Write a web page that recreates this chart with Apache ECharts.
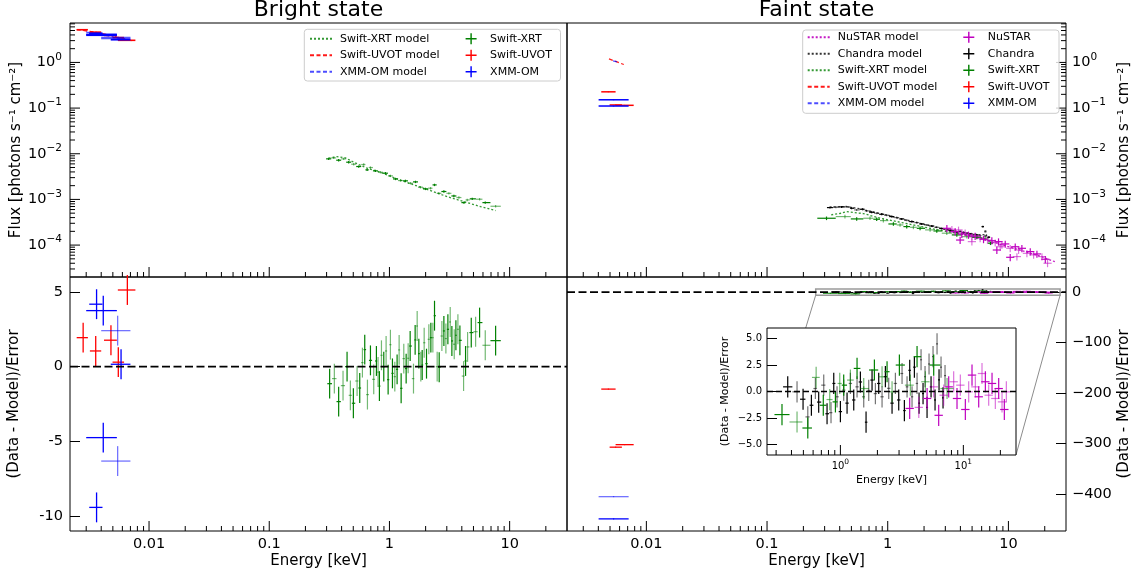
<!DOCTYPE html>
<html><head><meta charset="utf-8">
<script src="https://cdn.jsdelivr.net/npm/echarts@6/dist/echarts.min.js"></script>
<style>html,body{margin:0;padding:0;background:#fff}#c{width:1140px;height:581px}</style>
</head><body><div id="c"></div>
<script>
// ---------------- axis ranges ----------------
const X_RANGE = [0.0022, 30];
const FLUX_RANGE = [2e-5, 7.3];
const RES_BRIGHT_RANGE = [-11, 6];
const RES_FAINT_RANGE = [-473, 30];
const INSET_X = [0.253, 26.8];
const INSET_Y = [-6, 6];

// ---------------- Bright state ----------------
const bUvotE    = [0.00283, 0.0036, 0.00482, 0.00555, 0.0066];
const bUvotElo  = [0.0025, 0.00322, 0.00422, 0.00497, 0.0055];
const bUvotEhi  = [0.0031, 0.0040, 0.0054, 0.0062, 0.0077];
const bUvotFlux = [5.2, 4.6, 3.9, 3.5, 3.05];
const bUvotRes  = [1.94, 1.05, 1.77, 0.3, 5.13];

const bOmE    = [0.00366, 0.00366, 0.00416, 0.00416, 0.00548, 0.00548, 0.00585];
const bOmElo  = [0.00318, 0.00318, 0.0030, 0.0030, 0.0040, 0.0040, 0.0048];
const bOmEhi  = [0.0041, 0.0041, 0.0054, 0.0054, 0.0070, 0.0070, 0.0070];
const bOmFlux = [4.35, 4.2, 4.1, 3.95, 3.5, 3.35, 3.15];
const bOmRes  = [4.18, -9.42, 3.75, -4.75, 2.41, -6.32, 0.16];

const bUvotModelE = [0.0025, 0.0031, 0.0036, 0.0041, 0.0048, 0.0054, 0.0062, 0.0073];
const bUvotModelF = [5.25, 4.85, 4.55, 4.25, 3.9, 3.6, 3.3, 2.95];
const bOmModelE = [0.0030, 0.0037, 0.0042, 0.0055, 0.0059, 0.0070];
const bOmModelF = [4.6, 4.25, 4.0, 3.45, 3.25, 3.0];

const bXrtE = [0.312,0.344,0.378,0.416,0.458,0.504,0.555,0.611,0.652,0.695,0.764,0.841,0.926,1.019,1.122,1.235,1.359,1.496,1.647,1.813,1.995,2.197,2.371,2.577,2.837,3.122,3.436,3.783,4.164,4.438,4.886,5.623,6.268,7.643];
const bXrtFlux = [7.73e-3,8.12e-3,7.22e-3,7.73e-3,6.53e-3,5.90e-3,5.25e-3,5.81e-3,4.44e-3,4.99e-3,4.22e-3,3.94e-3,3.75e-3,3.28e-3,2.81e-3,2.59e-3,2.55e-3,2.26e-3,2.42e-3,1.85e-3,1.70e-3,1.76e-3,2.08e-3,1.36e-3,1.49e-3,1.36e-3,1.19e-3,1.10e-3,8.51e-4,9.75e-4,1.03e-3,1.01e-3,8.51e-4,7.08e-4];
const bXrtModelE = [0.312,0.366,0.430,0.504,0.652,0.841,1.159,1.596,2.197,3.02,4.16,5.73,7.64];
const bXrtModelF = [8.0e-3,8.69e-3,8.13e-3,6.53e-3,4.82e-3,3.94e-3,2.81e-3,2.08e-3,1.56e-3,1.15e-3,8.96e-4,6.96e-4,5.69e-4];

const bXrtResE = [0.318,0.348,0.378,0.411,0.444,0.473,0.501,0.538,0.566,0.596,0.623,0.656,0.695,0.740,0.779,0.804,0.825,0.858,0.897,0.938,0.975,1.019,1.059,1.108,1.158,1.204,1.251,1.316,1.377,1.431,1.487,1.585,1.636,1.701,1.756,1.824,1.872,1.945,2.034,2.127,2.211,2.297,2.371,2.495,2.593,2.730,2.837,2.948,3.063,3.203,3.307,3.459,3.571,3.711,3.856,4.137,4.298,4.467,4.793,5.210,5.623,6.268,7.643];
const bXrtResVal = [-1.14,-0.8,-2.34,-1.27,0,-1.92,-2.45,-0.96,-1.43,0.27,1.14,-1.87,0.42,-0.85,0.38,-0.36,-1.3,0.76,0,1.05,-0.87,1.47,-0.45,-0.67,-0.18,1.12,-1.45,0.54,-0.13,0.56,1.38,-0.8,1.79,2.72,0.87,0,0.11,1.6,0.2,1.83,1.94,1.94,3.41,0,-0.04,2.05,2.39,1.88,2.5,2.99,1.72,1.5,2.1,2.5,1.76,-0.63,0.38,1.32,2.28,2.34,2.95,1.43,1.74];

// ---------------- Faint state ----------------
const fUvotE    = [0.00485, 0.00556, 0.0066];
const fUvotElo  = [0.00423, 0.00496, 0.00556];
const fUvotEhi  = [0.00556, 0.00627, 0.00785];
const fUvotFlux = [0.227, 0.117, 0.115];
const fUvotRes  = [-192, -307, -302];

const fOmE    = [0.00535, 0.00535];
const fOmElo  = [0.00402, 0.00402];
const fOmEhi  = [0.00713, 0.00713];
const fOmFlux = [0.152, 0.111];
const fOmRes  = [-405, -449];

const fUvotModelE = [0.0049, 0.0056, 0.0065];
const fUvotModelF = [1.19, 1.05, 0.90];
const fOmModelE = [0.0053, 0.0058];
const fOmModelF = [1.08, 1.01];

const fChE = [0.332,0.372,0.415,0.471,0.502,0.553,0.620,0.669,0.736,0.810,0.891,0.980,1.079,1.187,1.306,1.437,1.581,1.740,1.914,2.106,2.317,2.549,2.804,3.085,3.289,3.505,3.736,3.981,4.243,4.522,4.819,5.136,5.473,5.833,6.14,6.42,6.84];
const fChFlux = [6.62e-4,6.74e-4,6.86e-4,6.86e-4,6.41e-4,5.89e-4,6.09e-4,5.60e-4,5.24e-4,4.98e-4,4.73e-4,4.50e-4,4.21e-4,4.00e-4,3.74e-4,3.50e-4,3.27e-4,3.11e-4,2.90e-4,2.76e-4,2.62e-4,2.45e-4,2.30e-4,2.22e-4,2.11e-4,2.04e-4,1.94e-4,2.00e-4,1.87e-4,1.82e-4,1.75e-4,1.69e-4,1.67e-4,1.61e-4,2.54e-4,1.58e-4,1.48e-4];
const fChModelE = [0.33,0.45,0.6,0.8,1.0,1.5,2.0,3.0,4.0,5.0,6.0,6.3,6.45,6.6,7.0];
const fChModelF = [6.8e-4,7.0e-4,6.2e-4,5.1e-4,4.5e-4,3.4e-4,2.85e-4,2.2e-4,1.95e-4,1.78e-4,1.65e-4,1.7e-4,2.2e-4,1.6e-4,1.5e-4];

const fXrtE = [0.311,0.442,0.553,0.713,0.810,0.920,1.114,1.265,1.437,1.632,1.854,2.244,2.549,3.085,3.736,4.522,5.473,6.42,7.1];
const fXrtFlux = [3.87e-4,4.21e-4,3.74e-4,3.87e-4,3.68e-4,3.44e-4,2.90e-4,2.76e-4,2.54e-4,2.45e-4,2.33e-4,2.15e-4,2.04e-4,1.82e-4,1.67e-4,1.53e-4,1.48e-4,1.41e-4,1.1e-4];
const fXrtModelE = [0.34,0.41,0.456,0.627,0.87,1.632,3.085,5.83,7.2];
const fXrtModelF = [4.6e-4,4.98e-4,5.42e-4,4.9e-4,3.87e-4,2.76e-4,1.97e-4,1.48e-4,1.2e-4];

const fNuE = [3.09,3.40,3.62,3.86,4.11,4.38,4.67,4.98,5.30,5.83,6.22,6.71,7.29,7.77,8.28,8.83,9.41,10.35,11.39,12.14,12.93,14.23,15.17,16.17,17.23,18.96,20.21,21.1,3.98,4.98,8.02,8.55,10.35,11.76];
const fNuFlux = [2.33e-4,2.22e-4,1.97e-4,2.15e-4,1.75e-4,1.87e-4,1.67e-4,1.53e-4,1.58e-4,1.41e-4,1.34e-4,1.29e-4,1.25e-4,1.13e-4,1.19e-4,1.01e-4,1.06e-4,8.5e-5,9.2e-5,7.8e-5,8.5e-5,6.6e-5,7.2e-5,6.1e-5,6.4e-5,5.6e-5,4.9e-5,4.0e-5,1.29e-4,1.19e-4,7.8e-5,9.2e-5,5.4e-5,5.6e-5];
const fNuModelE = [3, 5, 8, 12, 18, 25];
const fNuModelF = [2.1e-4,1.55e-4,1.1e-4,8e-5,5.8e-5,4.2e-5];

const fChResE = [0.373,0.444,0.497,0.543,0.581,0.626,0.666,0.732,0.779,0.839,0.883,0.939,1.0,1.064,1.133,1.206,1.284,1.366,1.454,1.548,1.617,1.700,1.809,1.926,2.050,2.182,2.322,2.472,2.631,2.801,2.981,3.173,3.314,3.484,3.663,3.825,3.997,4.202,4.362,4.529,4.701,4.880,5.067,5.259,5.461,5.668,5.885,6.109,6.342,6.584,6.835,7.096];
const fChResVal = [0.44,-0.03,-0.73,-2.4,-1.3,0.28,-1.0,0.6,-2.1,-2.0,0.76,-0.5,-1.9,0.13,-1.1,0.76,-0.8,0.44,0.9,-0.5,-2.9,0.1,1.08,-0.2,0.76,-0.5,1.4,0.3,-1.1,0.76,-0.8,1.7,-1.8,0.44,2.0,-0.5,2.3,0.76,-1.1,3.0,-0.2,1.4,-1.5,2.6,0.44,3.3,-0.8,4.5,1.1,2.3,-0.6,1.5];
const fXrtResE = [0.335,0.444,0.543,0.635,0.726,0.819,0.911,0.988,1.064,1.206,1.366,1.548,1.890,2.182,2.396,2.631,3.018,3.708,4.202,4.91,5.74,7.37];
const fXrtResVal = [-2.18,-2.88,-3.45,1.33,-1.3,-0.76,-0.98,0.76,0.6,1.08,2.18,0.28,2.03,1.39,1.87,-0.03,2.5,0.6,3.29,0.92,2.5,0.28];
const fNuResE = [3.66,4.34,5.07,5.74,6.30,6.92,7.60,8.34,8.88,9.45,10.38,11.05,11.76,12.52,13.33,14.18,15.10,16.07,17.11,18.20,19.38,20.63,21.54,22.37];
const fNuResVal = [-1.6,-1.5,-0.66,0.44,-2.25,-0.35,0.44,0.92,-0.66,0.6,-1.7,-0.03,1.55,0.44,-0.5,1.7,0.92,-0.35,0.76,-0.66,0.28,-0.98,-1.7,-0.03];

// fractional flux errors / bin half-widths (dex)
const XRT_BRIGHT_FERR = 0.06, CH_FERR = 0.05, XRT_FAINT_FERR = 0.09, NU_FERR = 0.18, UV_FERR = 0.02;
const NU_HALF_DEX = 0.034;

// ---------------- helpers ----------------
const FONT = 'DejaVu Sans';
const COL = {xrt:'#008000', uvot:'#ff0000', om:'#0000ff', nu:'#bf00bf', ch:'#000000'};

function contiguousBins(E) {
  return E.map((e, i) => {
    const prev = i > 0 ? E[i-1] : e * e / E[i+1];
    const next = i < E.length - 1 ? E[i+1] : e * e / E[i-1];
    return [Math.sqrt(prev * e), Math.sqrt(e * next)];
  });
}
function fixedBins(E, dex) { return E.map(e => [e / Math.pow(10, dex), e * Math.pow(10, dex)]); }
function explicitBins(lo, hi) { return lo.map((l, i) => [l, hi[i]]); }
function fluxRows(E, F, bins, ferr) { return E.map((e, i) => [e, F[i], bins[i][0], bins[i][1], F[i]*(1-ferr), F[i]*(1+ferr)]); }
function resRows(E, R, bins) { return E.map((e, i) => [e, R[i], bins[i][0], bins[i][1], R[i]-1, R[i]+1]); }

function errSeries(name, color, data, gi, opts) {
  opts = opts || {};
  return {
    type: 'custom', name, xAxisIndex: gi, yAxisIndex: gi, itemStyle: {color}, z: opts.z || 3,
    silent: true, animation: false, encode: {x: 0, y: 1}, data,
    renderItem(params, api) {
      const x = api.value(0), y = api.value(1);
      const pl = api.coord([api.value(2), y]), pr = api.coord([api.value(3), y]);
      const pb = api.coord([x, api.value(4)]), pt = api.coord([x, api.value(5)]);
      const i = params.dataIndex;
      const light = opts.light ? opts.light.indexOf(i) >= 0 : (opts.alternate && i % 2 === 1);
      const style = {stroke: color, lineWidth: opts.lw || 1.2, opacity: light ? 0.55 : 1};
      return {type: 'group', children: [
        {type: 'line', shape: {x1: pl[0], y1: pl[1], x2: pr[0], y2: pr[1]}, style},
        {type: 'line', shape: {x1: pb[0], y1: pb[1], x2: pt[0], y2: pt[1]}, style}
      ]};
    }
  };
}
function modelSeries(name, color, E, F, gi, dash, opacity) {
  return {type: 'line', name, xAxisIndex: gi, yAxisIndex: gi, data: E.map((e, i) => [e, F[i]]),
    symbol: 'none', showSymbol: false, silent: true, animation: false, z: 2,
    itemStyle: {color}, lineStyle: {color, width: 1.3, type: dash, opacity: opacity == null ? 1 : opacity}};
}
function zeroLine(gi, xr, extra) {
  return Object.assign({type: 'line', xAxisIndex: gi, yAxisIndex: gi, data: [[xr[0], 0], [xr[1], 0]],
    symbol: 'none', silent: true, animation: false, z: 4,
    lineStyle: {color: '#000', width: 1.6, type: [8, 3.5]}}, extra || {});
}
function logTicks(lo, hi) {
  const out = [];
  for (let k = Math.floor(Math.log10(lo)); k <= Math.ceil(Math.log10(hi)); k++)
    for (let m = 1; m <= 9; m++) { const v = m * Math.pow(10, k); if (v > lo * 1.0001 && v < hi * 0.9999) out.push([v, m === 1 ? 1 : 0]); }
  return out;
}
function tickSeries(gi, xr, yr, xTicks, yTicks, ySide, lens) {
  const data = [];
  xTicks.forEach(t => data.push([t[0], yr[0], t[1], 0]));
  yTicks.forEach(t => data.push([ySide === 'left' ? xr[0] : xr[1], t[0], t[1], 1]));
  return {type: 'custom', xAxisIndex: gi, yAxisIndex: gi, silent: true, animation: false, z: 6, data, encode: {x: 0, y: 1},
    renderItem(p, api) {
      const pt = api.coord([api.value(0), api.value(1)]);
      const L = api.value(2) ? lens[0] : lens[1];
      let x2 = pt[0], y2 = pt[1];
      if (api.value(3) === 0) y2 -= L; else x2 += (ySide === 'left' ? L : -L);
      return {type: 'line', shape: {x1: pt[0], y1: pt[1], x2, y2}, style: {stroke: '#000', lineWidth: 1}};
    }};
}
function decLabel(v) {
  const k = Math.round(Math.log10(v));
  if (Math.abs(v / Math.pow(10, k) - 1) > 1e-6) return '';
  return k >= 0 ? String(Math.pow(10, k)) : Math.pow(10, k).toFixed(-k);
}
function powLabel(v) {
  const k = Math.round(Math.log10(v));
  if (Math.abs(v / Math.pow(10, k) - 1) > 1e-6) return '';
  return '{b|10}{s|' + (k < 0 ? '\u2212' + (-k) : k) + '}';
}
const richMain = {b: {fontSize: 14.5, fontFamily: FONT, color: '#000', lineHeight: 22}, s: {fontSize: 10.5, fontFamily: FONT, color: '#000', verticalAlign: 'top', lineHeight: 14}};
const richInset = {b: {fontSize: 10, fontFamily: FONT, color: '#000', lineHeight: 16}, s: {fontSize: 7.5, fontFamily: FONT, color: '#000', verticalAlign: 'top', lineHeight: 10}};

const nameStyle = {fontSize: 15, color: '#000', fontFamily: FONT};
const labelStyle = {fontSize: 14.5, color: '#000', fontFamily: FONT};
const noLine = {show: false};
const noSplit = {show: false};

// ---------------- build series ----------------
const series = [];
// top-left
series.push(modelSeries('Swift-XRT model', COL.xrt, bXrtModelE, bXrtModelF, 0, [2, 2], 0.8));
series.push(modelSeries('Swift-UVOT model', COL.uvot, bUvotModelE, bUvotModelF, 0, [4, 2.5], 0.9));
series.push(modelSeries('XMM-OM model', COL.om, bOmModelE, bOmModelF, 0, [4, 2.5], 0.7));
series.push(errSeries('Swift-XRT', COL.xrt, fluxRows(bXrtE, bXrtFlux, contiguousBins(bXrtE), XRT_BRIGHT_FERR), 0, {alternate: true}));
series.push(errSeries('Swift-UVOT', COL.uvot, fluxRows(bUvotE, bUvotFlux, explicitBins(bUvotElo, bUvotEhi), UV_FERR), 0, {lw: 1.6}));
series.push(errSeries('XMM-OM', COL.om, fluxRows(bOmE, bOmFlux, explicitBins(bOmElo, bOmEhi), UV_FERR), 0, {lw: 1.8, light: [4, 5]}));
// top-right
series.push(modelSeries('NuSTAR model', COL.nu, fNuModelE, fNuModelF, 1, [2, 2], 0.9));
series.push(modelSeries('Chandra model', COL.ch, fChModelE, fChModelF, 1, [2, 2], 0.8));
series.push(modelSeries('Swift-XRT model', COL.xrt, fXrtModelE, fXrtModelF, 1, [2, 2], 0.8));
series.push(modelSeries('Swift-UVOT model', COL.uvot, fUvotModelE, fUvotModelF, 1, [4, 2.5], 0.9));
series.push(modelSeries('XMM-OM model', COL.om, fOmModelE, fOmModelF, 1, [4, 2.5], 0.7));
series.push(errSeries('Swift-XRT', COL.xrt, fluxRows(fXrtE, fXrtFlux, contiguousBins(fXrtE), XRT_FAINT_FERR), 1, {alternate: true}));
series.push(errSeries('Chandra', COL.ch, fluxRows(fChE, fChFlux, contiguousBins(fChE), CH_FERR), 1, {alternate: true}));
series.push(errSeries('NuSTAR', COL.nu, fluxRows(fNuE, fNuFlux, fixedBins(fNuE, NU_HALF_DEX), NU_FERR), 1, {alternate: true}));
series.push(errSeries('Swift-UVOT', COL.uvot, fluxRows(fUvotE, fUvotFlux, explicitBins(fUvotElo, fUvotEhi), UV_FERR), 1, {lw: 1.5}));
series.push(errSeries('XMM-OM', COL.om, fluxRows(fOmE, fOmFlux, explicitBins(fOmElo, fOmEhi), UV_FERR), 1, {lw: 1.5}));
// bottom-left
series.push(zeroLine(2, X_RANGE));
series.push(errSeries('Swift-XRT', COL.xrt, resRows(bXrtResE, bXrtResVal, contiguousBins(bXrtResE)), 2, {alternate: true}));
series.push(errSeries('Swift-UVOT', COL.uvot, resRows(bUvotE, bUvotRes, explicitBins(bUvotElo, bUvotEhi)), 2, {lw: 1.3}));
series.push(errSeries('XMM-OM', COL.om, resRows(bOmE, bOmRes, explicitBins(bOmElo, bOmEhi)), 2, {lw: 1.3, light: [4, 5]}));
// bottom-right (main)
series.push(zeroLine(3, X_RANGE, {markArea: {silent: true, itemStyle: {color: 'rgba(0,0,0,0)', borderColor: '#9a9a9a', borderWidth: 1.5},
  data: [[{coord: [INSET_X[0], INSET_Y[0]]}, {coord: [INSET_X[1], INSET_Y[1]]}]]}}));
series.push(errSeries('Chandra', COL.ch, resRows(fChResE, fChResVal, contiguousBins(fChResE)), 3, {lw: 1}));
series.push(errSeries('Swift-XRT', COL.xrt, resRows(fXrtResE, fXrtResVal, contiguousBins(fXrtResE)), 3, {lw: 1}));
series.push(errSeries('NuSTAR', COL.nu, resRows(fNuResE, fNuResVal, fixedBins(fNuResE, NU_HALF_DEX)), 3, {lw: 1}));
series.push(errSeries('Swift-UVOT', COL.uvot, resRows(fUvotE, fUvotRes, explicitBins(fUvotElo, fUvotEhi)), 3, {lw: 1.3}));
series.push(errSeries('XMM-OM', COL.om, resRows(fOmE, fOmRes, explicitBins(fOmElo, fOmEhi)), 3, {lw: 1.3, light: [0]}));
// inset
series.push(errSeries('Chandra', COL.ch, resRows(fChResE, fChResVal, contiguousBins(fChResE)), 4, {lw: 1.2, alternate: true, z: 7}));
series.push(errSeries('Swift-XRT', COL.xrt, resRows(fXrtResE, fXrtResVal, contiguousBins(fXrtResE)), 4, {lw: 1.2, alternate: true, z: 7}));
series.push(errSeries('NuSTAR', COL.nu, resRows(fNuResE, fNuResVal, fixedBins(fNuResE, NU_HALF_DEX)), 4, {lw: 1.2, alternate: true, z: 7}));
series.push(zeroLine(4, INSET_X, {z: 8, lineStyle: {color: '#000', width: 1.5, type: [6, 3]}}));
// ticks
const xt = logTicks(X_RANGE[0], X_RANGE[1]);
const yt = logTicks(FLUX_RANGE[0], FLUX_RANGE[1]);
series.push(tickSeries(0, X_RANGE, FLUX_RANGE, xt, yt, 'left', [10, 5]));
series.push(tickSeries(1, X_RANGE, FLUX_RANGE, xt, yt, 'right', [10, 5]));
series.push(tickSeries(2, X_RANGE, RES_BRIGHT_RANGE, xt, [], 'left', [10, 5]));
series.push(tickSeries(3, X_RANGE, RES_FAINT_RANGE, xt, [], 'right', [10, 5]));
series.push(tickSeries(4, INSET_X, INSET_Y, logTicks(INSET_X[0], INSET_X[1]), [], 'left', [10, 5]));

const frame = {show: true, borderColor: '#000', borderWidth: 1, backgroundColor: 'transparent'};
const CROSS = 'path://M0,4.35H10V5.65H0Z M4.35,0H5.65V10H4.35Z';
const legendBase = {orient: 'vertical', itemWidth: 22, itemHeight: 11, itemGap: 5.5, selectedMode: false, padding: 0, z: 10,
  textStyle: {fontSize: 11, fontFamily: FONT, color: '#000', padding: [0, 0, 0, 3]}};
const modelLegend = Object.assign({}, legendBase, {itemStyle: {color: 'rgba(0,0,0,0)', borderWidth: 0}});

const option = {
  animation: false,
  textStyle: {fontFamily: FONT},
  grid: [
    Object.assign({left: 70, top: 23, width: 497, height: 254}, frame),
    Object.assign({left: 567, top: 23, width: 499, height: 254}, frame),
    Object.assign({left: 70, top: 277, width: 497, height: 254}, frame),
    Object.assign({left: 567, top: 277, width: 499, height: 254}, frame),
    {left: 767, top: 328, width: 249, height: 127, show: true, borderColor: '#000', borderWidth: 1, backgroundColor: '#fff'}
  ],
  xAxis: [
    {type: 'log', gridIndex: 0, min: X_RANGE[0], max: X_RANGE[1], axisLine: noLine, axisTick: {show: false}, axisLabel: {show: false}, splitLine: noSplit},
    {type: 'log', gridIndex: 1, min: X_RANGE[0], max: X_RANGE[1], axisLine: noLine, axisTick: {show: false}, axisLabel: {show: false}, splitLine: noSplit},
    {type: 'log', gridIndex: 2, min: X_RANGE[0], max: X_RANGE[1], axisLine: noLine, axisTick: {show: false}, splitLine: noSplit,
      axisLabel: Object.assign({formatter: decLabel, margin: 6, showMinLabel: false, showMaxLabel: false}, labelStyle),
      name: 'Energy [keV]', nameLocation: 'middle', nameGap: 23, nameTextStyle: nameStyle},
    {type: 'log', gridIndex: 3, min: X_RANGE[0], max: X_RANGE[1], axisLine: noLine, axisTick: {show: false}, splitLine: noSplit,
      axisLabel: Object.assign({formatter: decLabel, margin: 6, showMinLabel: false, showMaxLabel: false}, labelStyle),
      name: 'Energy [keV]', nameLocation: 'middle', nameGap: 23, nameTextStyle: nameStyle},
    {type: 'log', gridIndex: 4, min: INSET_X[0], max: INSET_X[1], axisLine: noLine, axisTick: {show: false}, splitLine: noSplit,
      axisLabel: {formatter: powLabel, rich: richInset, margin: 3, showMinLabel: false, showMaxLabel: false},
      name: 'Energy [keV]', nameLocation: 'middle', nameGap: 20, nameTextStyle: {fontSize: 11, color: '#000', fontFamily: FONT}}
  ],
  yAxis: [
    {type: 'log', gridIndex: 0, min: FLUX_RANGE[0], max: FLUX_RANGE[1], position: 'left', axisLine: noLine, axisTick: {show: false}, splitLine: noSplit,
      axisLabel: {formatter: powLabel, rich: richMain, margin: 8, showMinLabel: false, showMaxLabel: false},
      name: 'Flux [photons s\u207B\u00B9 cm\u207B\u00B2]', nameLocation: 'middle', nameGap: 46, nameTextStyle: nameStyle},
    {type: 'log', gridIndex: 1, min: FLUX_RANGE[0], max: FLUX_RANGE[1], position: 'right', axisLine: noLine, axisTick: {show: false}, splitLine: noSplit,
      axisLabel: {formatter: powLabel, rich: richMain, margin: 6, showMinLabel: false, showMaxLabel: false},
      name: 'Flux [photons s\u207B\u00B9 cm\u207B\u00B2]', nameLocation: 'middle', nameGap: 51, nameTextStyle: nameStyle},
    {type: 'value', gridIndex: 2, min: RES_BRIGHT_RANGE[0], max: RES_BRIGHT_RANGE[1], position: 'left', splitNumber: 3, minInterval: 5, maxInterval: 5,
      axisLine: noLine, axisTick: {show: true, inside: true, length: 10, lineStyle: {color: '#000', width: 1}}, splitLine: noSplit,
      axisLabel: Object.assign({margin: 7, showMinLabel: false, showMaxLabel: false}, labelStyle),
      name: '(Data - Model)/Error', nameLocation: 'middle', nameGap: 48, nameTextStyle: nameStyle},
    {type: 'value', gridIndex: 3, min: RES_FAINT_RANGE[0], max: RES_FAINT_RANGE[1], position: 'right', minInterval: 100, maxInterval: 100,
      axisLine: noLine, axisTick: {show: true, inside: true, length: 10, lineStyle: {color: '#000', width: 1}}, splitLine: noSplit,
      axisLabel: Object.assign({margin: 6, showMinLabel: false, showMaxLabel: false, formatter: v => String(v).replace('-', '\u2212')}, labelStyle),
      name: '(Data - Model)/Error', nameLocation: 'middle', nameGap: 51, nameTextStyle: nameStyle},
    {type: 'value', gridIndex: 4, min: INSET_Y[0], max: INSET_Y[1], position: 'left', minInterval: 2.5, maxInterval: 2.5,
      axisLine: noLine, axisTick: {show: true, inside: true, length: 10, lineStyle: {color: '#000', width: 1}}, splitLine: noSplit,
      axisLabel: {margin: 5, showMinLabel: false, showMaxLabel: false, fontSize: 10, color: '#000', fontFamily: FONT, formatter: v => v.toFixed(1).replace('-', '\u2212')},
      name: '(Data - Model)/Error', nameLocation: 'middle', nameGap: 36, nameTextStyle: {fontSize: 11, color: '#000', fontFamily: FONT}}
  ],
  legend: [
    Object.assign({left: 309, top: 33.2, data: ['Swift-XRT model', 'Swift-UVOT model', 'XMM-OM model']}, modelLegend),
    Object.assign({left: 465.6, top: 33.2, data: ['Swift-XRT', 'Swift-UVOT', 'XMM-OM'].map(n => ({name: n, icon: CROSS}))}, legendBase),
    Object.assign({left: 806.7, top: 31.8, data: ['NuSTAR model', 'Chandra model', 'Swift-XRT model', 'Swift-UVOT model', 'XMM-OM model']}, modelLegend),
    Object.assign({left: 963.3, top: 31.8, data: ['NuSTAR', 'Chandra', 'Swift-XRT', 'Swift-UVOT', 'XMM-OM'].map(n => ({name: n, icon: CROSS}))}, legendBase)
  ],
  series
};

const chart = echarts.init(document.getElementById('c'), null, {renderer: 'canvas'});
chart.setOption(option);

// inset connectors, legend frames, panel titles
const a0 = chart.convertToPixel({gridIndex: 3}, [INSET_X[0], INSET_Y[0]]);
const a1 = chart.convertToPixel({gridIndex: 3}, [INSET_X[1], INSET_Y[0]]);
const b0 = chart.convertToPixel({gridIndex: 4}, [INSET_X[0], INSET_Y[0]]);
const b1 = chart.convertToPixel({gridIndex: 4}, [INSET_X[1], INSET_Y[0]]);
chart.setOption({graphic: [
  {type: 'line', z: -1, silent: true, shape: {x1: a0[0], y1: a0[1], x2: b0[0], y2: b0[1]}, style: {stroke: '#8c8c8c', lineWidth: 1}},
  {type: 'line', z: -1, silent: true, shape: {x1: a1[0], y1: a1[1], x2: b1[0], y2: b1[1]}, style: {stroke: '#8c8c8c', lineWidth: 1}},
  {type: 'rect', z: 9, silent: true, shape: {x: 304.3, y: 29.3, width: 256.2, height: 51.7, r: 3}, style: {fill: 'rgba(255,255,255,0.8)', stroke: '#cccccc', lineWidth: 1}},
  {type: 'rect', z: 9, silent: true, shape: {x: 802.7, y: 30, width: 256.3, height: 83.3, r: 3}, style: {fill: 'rgba(255,255,255,0.8)', stroke: '#cccccc', lineWidth: 1}},
  {type: 'text', z: 10, silent: true, x: 318.5, y: 10, style: {text: 'Bright state', fontSize: 22, fontFamily: FONT, fill: '#000', align: 'center', verticalAlign: 'middle', textAlign: 'center', textVerticalAlign: 'middle'}},
  {type: 'text', z: 10, silent: true, x: 816.5, y: 10, style: {text: 'Faint state', fontSize: 22, fontFamily: FONT, fill: '#000', align: 'center', verticalAlign: 'middle', textAlign: 'center', textVerticalAlign: 'middle'}}
]});
</script></body></html>
